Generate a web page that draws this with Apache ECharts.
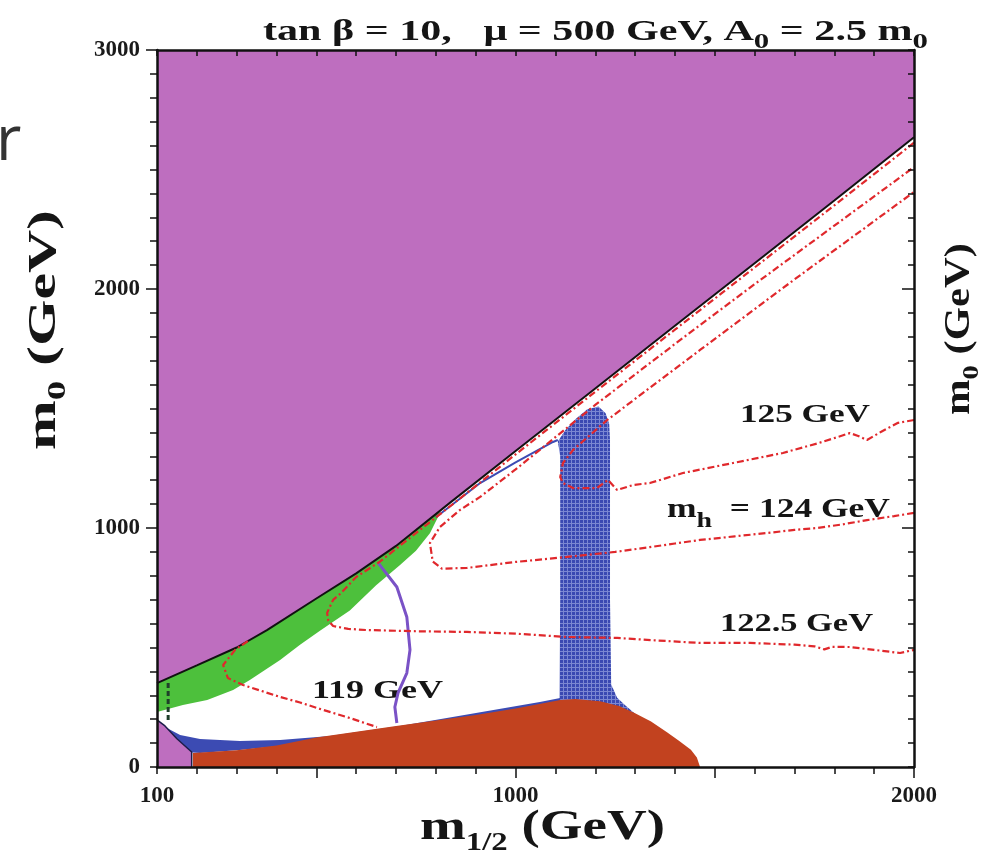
<!DOCTYPE html>
<html>
<head>
<meta charset="utf-8">
<script src="https://cdn.jsdelivr.net/npm/echarts@6.0.0/dist/echarts.min.js"></script>
<style>
html,body{margin:0;padding:0;background:#ffffff;}
#chart{width:982px;height:864px;}
</style>
</head>
<body>
<div id="chart"></div>
<script>
// ---------- data: [m1/2 (GeV), m0 (GeV)] ----------
const xTickLabels = [100, 1000, 2000];
const yTickLabels = [0, 1000, 2000, 3000];
const xMajorTicks = [500, 1000, 1500, 2000];
const yMajorTicksLeft = [1000, 2000, 3000];
const yMajorTicksRight = [1000, 2000];

const boundary = [[100,351],[200,425],[300,500],[376,573],[500,705],[600,810],[700,925],[835,1105],[1000,1322],[1200,1584],[1400,1846],[1600,2108],[1800,2370],[2000,2635]];
const purpleTopCorners = [[2000,3000],[100,3000]];
const purpleCorner = [[100,0],[100,197],[120,172],[150,118],[187,63],[187,0]];
const purpleCornerEdge = [[100,197],[120,172],[150,118],[187,63],[187,0]];
const greenUpper = [[100,351],[200,425],[300,500],[376,573],[500,705],[600,810],[700,925],[812,1075]];
const greenLower = [[805,1045],[785,978],[750,905],[710,845],[650,760],[584,655],[509,570],[459,512],[409,448],[333,364],[291,322],[226,280],[165,259],[100,230]];
const brownRegion = [[190,0],[190,59],[300,70],[400,90],[500,123],[600,148],[700,172],[800,195],[900,218],[1000,245],[1112,280],[1150,285],[1212,275],[1260,255],[1300,225],[1340,190],[1380,145],[1410,110],[1440,72],[1455,40],[1463,0]];
const blueStrip = [[1110,250],[1112,700],[1112,1300],[1106,1362],[1125,1410],[1150,1455],[1180,1497],[1208,1508],[1226,1480],[1235,1435],[1237,1368],[1237,700],[1240,345],[1255,290],[1275,258],[1305,215],[1250,240],[1180,260]];
const blueBandTop = [[120,167],[158,134],[208,117],[308,109],[409,113],[534,130],[710,172],[886,222],[1061,272],[1112,289]];
const blueBandBottom = [[1112,272],[886,201],[710,155],[534,109],[409,88],[308,71],[208,59],[170,63],[138,96],[120,146]];
const blueEdgeLine = [[800,1045],[911,1188],[1000,1275],[1094,1360],[1106,1368]];
const charginoLine = [[128,351],[128,184]];
const purpleContour = [[655,854],[702,753],[727,628],[735,490],[727,393],[705,310],[697,251],[702,184]];
const mh119 = [[328,527],[296,490],[266,427],[278,372],[316,343],[409,293],[459,270],[509,243],[584,205],[652,167]];
const mh1225 = [[2000,2612],[1800,2350],[1600,2090],[1400,1830],[1200,1570],[1000,1308],[835,1090],[760,992],[700,913],[660,860],[600,795],[560,725],[542,699],[527,645],[530,612],[542,590],[580,578],[627,573],[750,568],[878,565],[1000,558],[1129,544],[1255,540],[1350,530],[1463,519],[1588,519],[1700,512],[1750,505],[1775,492],[1795,503],[1839,502],[1900,490],[1965,477],[2000,490]];
const mh124 = [[2000,1063],[1950,1050],[1882,1033],[1820,1015],[1756,1000],[1700,992],[1631,979],[1550,965],[1463,950],[1400,935],[1337,920],[1250,900],[1129,879],[1000,858],[878,833],[815,830],[792,860],[785,937],[810,1004],[860,1075],[911,1130],[1000,1245],[1200,1515],[1400,1770],[1600,2020],[1800,2265],[2000,2510]];
const mh125 = [[2000,1452],[1960,1440],[1920,1405],[1882,1368],[1860,1385],[1839,1397],[1760,1355],[1671,1314],[1546,1272],[1420,1230],[1337,1188],[1295,1180],[1255,1159],[1232,1201],[1204,1167],[1144,1167],[1119,1188],[1112,1213],[1119,1272],[1144,1326],[1230,1452],[1463,1745],[1700,2040],[2000,2406]];

// ---------- helpers ----------
const COLORS = {purple:'#be6ebf', brown:'#c2421f', green:'#4dc03c', blue:'#3c4bb3', red:'#e0282c', violet:'#7a52c6'};
const DASHDOT = [7, 3, 2, 3];

function hatchPattern() {
  const c = document.createElement('canvas'); c.width = 4; c.height = 4;
  const g = c.getContext('2d');
  g.fillStyle = '#3a49b2'; g.fillRect(0,0,4,4);
  g.fillStyle = '#7b87d2'; g.fillRect(3,0,1,4); g.fillRect(0,3,4,1);
  return {image: c, repeat: 'repeat'};
}

function polySeries(name, pts, style, z) {
  return {
    type: 'custom', name: name, xAxisIndex: 0, yAxisIndex: 0, data: pts, z: z, silent: true,
    renderItem: function (params, api) {
      if (params.dataIndex !== 0) return null;
      return {type: 'polygon', shape: {points: pts.map(function (p) { return api.coord(p); })}, style: style};
    }
  };
}
function lineSeries(name, pts, color, width, dash, z) {
  return {
    type: 'line', name: name, data: pts, xAxisIndex: 0, yAxisIndex: 0, showSymbol: false, symbol: 'none',
    lineStyle: {color: color, width: width, type: dash || 'solid'}, z: z, silent: true, clip: true
  };
}

const mctx = document.createElement('canvas').getContext('2d');
function textRun(o) {
  let cx = 0; const kids = [];
  o.pieces.forEach(function (p) {
    const font = (p.weight || o.weight || 'bold') + ' ' + p.size + 'px ' + (o.family || '"Liberation Serif"');
    mctx.font = font;
    const w = mctx.measureText(p.t).width;
    kids.push({type: 'text', x: cx, y: (p.dy || 0) - 0.34 * p.size,
      style: {text: p.t, font: font, fill: o.color || '#151515', align: 'left', textAlign: 'left', verticalAlign: 'middle', textVerticalAlign: 'middle'}});
    cx += w;
  });
  const s = o.width ? o.width / cx : 1;
  return {type: 'group', x: o.x, y: o.y, rotation: o.rotate || 0, scaleX: s, scaleY: o.thick || 1, children: kids, silent: true, z: 100};
}

// ---------- chart ----------
const chart = echarts.init(document.getElementById('chart'), null, {renderer: 'canvas'});
const axisLine = {show: true, onZero: false, lineStyle: {color: '#111', width: 2.5}};
const tickStyle = {color: '#111', width: 1.5};
const labelFont = {color: '#1a1a1a', fontFamily: '"Liberation Serif"', fontWeight: 'bold', fontSize: 23, formatter: function (v) { return String(v); }};
const allX = []; for (let v = 100; v <= 2000; v += 100) allX.push(v);
const allY = []; for (let v = 0; v <= 3000; v += 100) allY.push(v);

const gridRect = {left: 157, right: 68, top: 50, bottom: 97};
const option = {
  animation: false,
  backgroundColor: '#ffffff',
  grid: [Object.assign({}, gridRect), Object.assign({}, gridRect)],
  xAxis: [
    {gridIndex: 0, type: 'value', position: 'bottom', min: 100, max: 2000, interval: 100, z: 10,
      axisLine: axisLine, axisTick: {show: true, length: 7, customValues: allX, lineStyle: tickStyle},
      axisLabel: Object.assign({show: true, customValues: xTickLabels, margin: 18}, labelFont), splitLine: {show: false}},
    {gridIndex: 0, type: 'value', position: 'top', min: 100, max: 2000, interval: 100, z: 10,
      axisLine: axisLine, axisTick: {show: true, inside: true, length: 6, customValues: allX, lineStyle: tickStyle},
      axisLabel: {show: false}, splitLine: {show: false}},
    {gridIndex: 1, type: 'value', position: 'bottom', min: 100, max: 2000, interval: 100, z: 10,
      axisLine: {show: false}, axisTick: {show: true, length: 11, customValues: xMajorTicks, lineStyle: tickStyle},
      axisLabel: {show: false}, splitLine: {show: false}},
    {gridIndex: 1, type: 'value', position: 'top', min: 100, max: 2000, interval: 100, z: 10,
      axisLine: {show: false}, axisTick: {show: true, inside: true, length: 11, customValues: xMajorTicks, lineStyle: tickStyle},
      axisLabel: {show: false}, splitLine: {show: false}}
  ],
  yAxis: [
    {gridIndex: 0, type: 'value', position: 'left', min: 0, max: 3000, interval: 100, z: 10,
      axisLine: axisLine, axisTick: {show: true, length: 7, customValues: allY, lineStyle: tickStyle},
      axisLabel: Object.assign({show: true, customValues: yTickLabels, margin: 17}, labelFont), splitLine: {show: false}},
    {gridIndex: 0, type: 'value', position: 'right', min: 0, max: 3000, interval: 100, z: 10,
      axisLine: axisLine, axisTick: {show: true, inside: true, length: 6, customValues: allY, lineStyle: tickStyle},
      axisLabel: {show: false}, splitLine: {show: false}},
    {gridIndex: 1, type: 'value', position: 'left', min: 0, max: 3000, interval: 100, z: 10,
      axisLine: {show: false}, axisTick: {show: true, length: 11, customValues: yMajorTicksLeft, lineStyle: tickStyle},
      axisLabel: {show: false}, splitLine: {show: false}},
    {gridIndex: 1, type: 'value', position: 'right', min: 0, max: 3000, interval: 100, z: 10,
      axisLine: {show: false}, axisTick: {show: true, inside: true, length: 12, customValues: yMajorTicksRight, lineStyle: tickStyle},
      axisLabel: {show: false}, splitLine: {show: false}}
  ],
  series: [
    polySeries('coannihilation strip', blueStrip, {fill: hatchPattern()}, 2),
    polySeries('focus band', blueBandTop.concat(blueBandBottom), {fill: COLORS.blue}, 2),
    polySeries('charged LSP', brownRegion, {fill: COLORS.brown}, 3),
    polySeries('gμ-2', greenUpper.concat(greenLower), {fill: COLORS.green}, 3),
    polySeries('excluded', boundary.concat(purpleTopCorners), {fill: COLORS.purple}, 4),
    polySeries('excluded corner', purpleCorner, {fill: COLORS.purple}, 4),
    lineSeries('boundary', boundary, '#111', 2, 'solid', 5),
    lineSeries('corner edge', purpleCornerEdge, '#1d1d4a', 1.5, 'solid', 5),
    lineSeries('blue edge', blueEdgeLine, COLORS.blue, 2, 'solid', 5),
    lineSeries('chargino', charginoLine, '#1f3f2a', 3, [5, 3], 7),
    lineSeries('violet contour', purpleContour, COLORS.violet, 3, 'solid', 6),
    lineSeries('mh 119', mh119, COLORS.red, 2.2, DASHDOT, 7),
    lineSeries('mh 122.5', mh1225, COLORS.red, 2.2, DASHDOT, 7),
    lineSeries('mh 124', mh124, COLORS.red, 2.2, DASHDOT, 7),
    lineSeries('mh 125', mh125, COLORS.red, 2.2, DASHDOT, 7)
  ],
  graphic: {elements: [
    textRun({x: 263, y: 42, width: 665, pieces: [{t: 'tan β = 10,   μ = 500 GeV, A', size: 30}, {t: '0', size: 22, dy: 8}, {t: ' = 2.5 m', size: 30}, {t: '0', size: 22, dy: 8}]}),
    textRun({x: 420, y: 842, width: 245, pieces: [{t: 'm', size: 42}, {t: '1/2', size: 25, dy: 10}, {t: ' (GeV)', size: 42}]}),
    textRun({x: 58, y: 450, width: 240, rotate: Math.PI / 2, pieces: [{t: 'm', size: 40}, {t: '0', size: 26, dy: 9}, {t: ' (GeV)', size: 40}]}),
    textRun({x: 972, y: 415, width: 172, rotate: Math.PI / 2, pieces: [{t: 'm', size: 36}, {t: '0', size: 24, dy: 8}, {t: ' (GeV)', size: 36}]}),
    textRun({x: 740, y: 424, width: 130, pieces: [{t: '125 GeV', size: 26}]}),
    textRun({x: 667, y: 519, width: 223, pieces: [{t: 'm', size: 28}, {t: 'h', size: 22, dy: 10}, {t: '  = 124 GeV', size: 28}]}),
    textRun({x: 720, y: 633, width: 153, pieces: [{t: '122.5 GeV', size: 26}]}),
    textRun({x: 312, y: 700, width: 131, pieces: [{t: '119 GeV', size: 26}]}),
    textRun({x: 223, y: 163, width: 177, family: '"DejaVu Sans"', weight: 'normal', color: '#111', pieces: [{t: 'NUHM1', size: 41}]}),
    textRun({x: 221, y: 213, width: 380, family: '"DejaVu Sans"', weight: 'normal', color: '#111', pieces: [{t: 'arXiv:1212.4476', size: 41}]}),
    textRun({x: -4, y: 163, family: '"Open Sans"', weight: 'normal', color: '#333', pieces: [{t: 'r', size: 62}]})
  ]}
};
chart.setOption(option);
</script>
</body>
</html>
